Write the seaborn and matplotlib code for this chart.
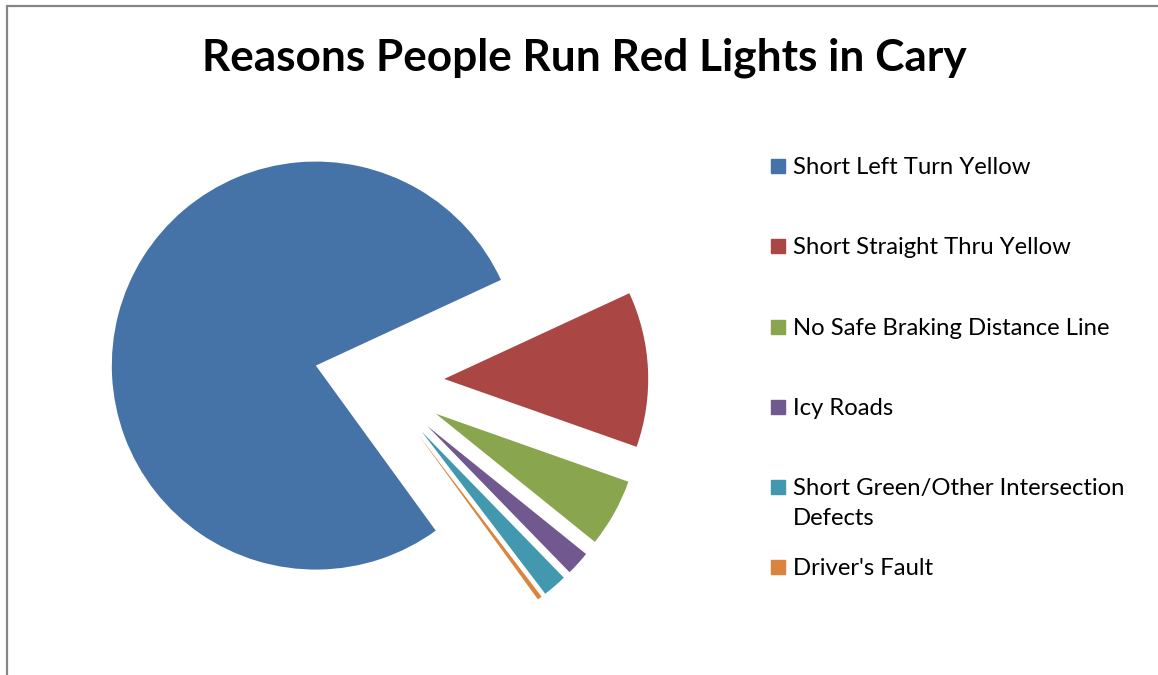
import matplotlib
matplotlib.use("Agg")
import matplotlib.pyplot as plt
import matplotlib.patches as mpatches
import seaborn as sns

# data (share of responses, %)
reasons = ["Short Left Turn Yellow", "Short Straight Thru Yellow",
           "No Safe Braking Distance Line", "Icy Roads",
           "Short Green/Other Intersection\nDefects", "Driver's Fault"]
shares = [78.1, 12.3, 5.4, 1.92, 1.92, 0.36]
colors = ["#4572A7", "#AA4643", "#89A54E", "#71588F", "#4198AF", "#DB843D"]

sns.set_style("white")
plt.rcParams["font.family"] = ["Lato", "DejaVu Sans"]
plt.rcParams["text.color"] = "black"

W, H = 1158, 675
fig = plt.figure(figsize=(W / 100, H / 100), dpi=100)

# pie axes: one data unit = pie radius (204 px), centre at (379, 382) px
R = 204.0
cx, cy = 379.0, 382.0
ax = fig.add_axes([0, 0, 1, 1])
ax.pie(shares, colors=colors, startangle=306, counterclock=False,
       explode=[0.32] * len(shares), radius=1,
       wedgeprops={"linewidth": 0})
ax.set_xlim(-cx / R, (W - cx) / R)
ax.set_ylim(-(H - cy) / R, cy / R)
ax.set_aspect("equal")
ax.axis("off")

# title
fig.text(584 / W, 1 - 58 / H, "Reasons People Run Red Lights in Cary",
         ha="center", va="center", fontsize=31.8, fontweight="bold")

# legend drawn by hand so the wrapped entry keeps its square on line one
legend_y = [166, 246, 327, 407, 487, 567]
for lab, col, y in zip(reasons, colors, legend_y):
    fig.add_artist(mpatches.Rectangle((771 / W, 1 - (y + 7) / H), 14 / W, 14 / H,
                                      transform=fig.transFigure, color=col))
    fig.text(793 / W, 1 - (y - 9) / H, lab, ha="left", va="top",
             fontsize=17.2, linespacing=1.55)

# chart frame (only top and left edges are visible in the crop)
fig.add_artist(plt.Line2D([7 / W, 1.0], [1 - 6 / H, 1 - 6 / H],
                          transform=fig.transFigure, color="#868686", lw=1.6))
fig.add_artist(plt.Line2D([7 / W, 7 / W], [1 - 6 / H, 0],
                          transform=fig.transFigure, color="#868686", lw=1.6))

fig.savefig("out.png", dpi=100)
